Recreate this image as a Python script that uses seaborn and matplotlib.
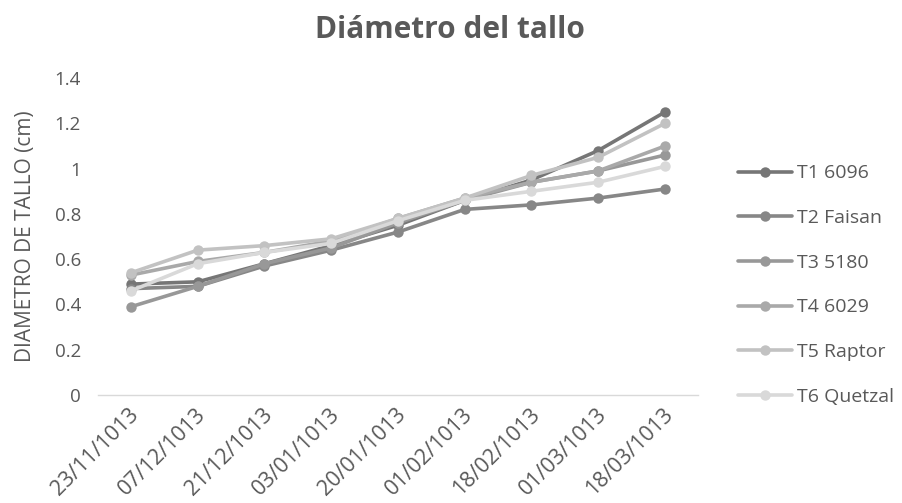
import matplotlib
matplotlib.use("Agg")
import matplotlib.pyplot as plt
import matplotlib.transforms as mtransforms
import seaborn as sns
import pandas as pd

fechas = ["23/11/1013", "07/12/1013", "21/12/1013", "03/01/1013", "20/01/1013",
          "01/02/1013", "18/02/1013", "01/03/1013", "18/03/1013"]
series = ["T1 6096", "T2 Faisan", "T3 5180", "T4 6029", "T5 Raptor", "T6 Quetzal"]
t1 = [0.49, 0.50, 0.58, 0.66, 0.75, 0.86, 0.95, 1.08, 1.25]
t2 = [0.47, 0.48, 0.57, 0.64, 0.72, 0.82, 0.84, 0.87, 0.91]
t3 = [0.39, 0.48, 0.58, 0.65, 0.76, 0.86, 0.94, 0.99, 1.06]
t4 = [0.53, 0.59, 0.63, 0.68, 0.78, 0.87, 0.94, 0.99, 1.10]
t5 = [0.54, 0.64, 0.66, 0.69, 0.78, 0.87, 0.97, 1.05, 1.20]
t6 = [0.46, 0.58, 0.63, 0.67, 0.77, 0.86, 0.90, 0.94, 1.01]
yticks = [0, 0.2, 0.4, 0.6, 0.8, 1, 1.2, 1.4]
ytick_labels = ["0", "0.2", "0.4", "0.6", "0.8", "1", "1.2", "1.4"]

grises = ["#767676", "#878787", "#989898", "#a9a9a9", "#c2c2c2", "#d9d9d9"]

valores = [t1, t2, t3, t4, t5, t6]
df = pd.DataFrame({
    "fecha": fechas * len(series),
    "diametro": [v for fila in valores for v in fila],
    "tratamiento": [s for s in series for _ in fechas],
})

sns.set_style("white")
plt.rcParams["font.family"] = ["Open Sans", "DejaVu Sans"]
texto = "#595959"

fig = plt.figure(figsize=(9.02, 5.03), dpi=100)
ax = fig.add_axes([0.1082, 0.2147, 0.666, 0.630])

sns.lineplot(data=df, x="fecha", y="diametro", hue="tratamiento",
             palette=grises, marker="o", markersize=7.5, markeredgewidth=0,
             linewidth=2.6, sort=False, ax=ax, legend=True)

ax.set_xlim(-0.5, len(fechas) - 0.5)
ax.set_ylim(0, 1.4)
ax.set_yticks(yticks)
ax.set_yticklabels(ytick_labels)
ax.set_xticks(range(len(fechas)))
ax.set_xticklabels(fechas, rotation=45, ha="right", va="center",
                   rotation_mode="anchor")
ax.tick_params(axis="y", colors=texto, labelsize=13.5, length=0, pad=12)
ax.tick_params(axis="x", colors=texto, labelsize=15.5, length=0, pad=12)

# nudge rotated date labels slightly to the right of their category
desplazamiento = mtransforms.ScaledTranslation(5 / 100, 0, fig.dpi_scale_trans)
for etiqueta in ax.get_xticklabels():
    etiqueta.set_transform(etiqueta.get_transform() + desplazamiento)

for lado in ["top", "right", "left"]:
    ax.spines[lado].set_visible(False)
ax.spines["bottom"].set_color("#d9d9d9")
ax.spines["bottom"].set_linewidth(1.0)

ax.set_xlabel("")
ax.set_ylabel("DIAMETRO DE TALLO (cm)", color=texto, fontsize=15, labelpad=13)

fig.text(0.499, 0.94, "Diámetro del tallo", ha="center", va="center",
         fontsize=21.5, fontweight="bold", color=texto)

handles, labels = ax.get_legend_handles_labels()
ax.legend(handles, labels, loc="center left", bbox_to_anchor=(0.818, 0.4334),
          bbox_transform=fig.transFigure, frameon=False, borderpad=0,
          borderaxespad=0, handlelength=2.8, handletextpad=0.25,
          labelspacing=1.37, fontsize=14, labelcolor=texto)

fig.savefig("out.png", dpi=100)
